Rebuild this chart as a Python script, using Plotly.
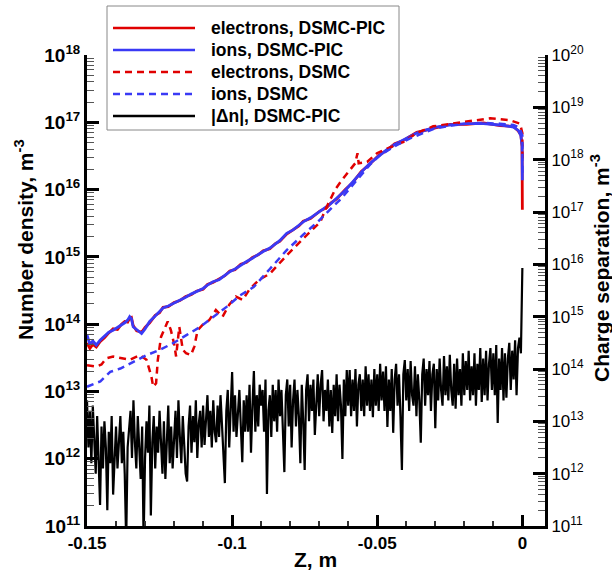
import plotly.graph_objects as go

# ---------------- data (log10 of number density, m^-3) ----------------
Z_IONS_PIC = [-0.150, -0.1490, -0.1480, -0.1468, -0.1455, -0.1439, -0.1425, -0.1410, -0.1395, -0.1381,
              -0.1370, -0.1360, -0.1353, -0.1347, -0.1341, -0.1329, -0.1312, -0.1300, -0.1284, -0.1265,
              -0.1250, -0.1238, -0.1220, -0.1200, -0.1180, -0.1160, -0.1140, -0.1123, -0.1100, -0.1085,
              -0.1066, -0.1045, -0.1025, -0.1008, -0.0990, -0.0970, -0.0950, -0.0930, -0.0910, -0.0893,
              -0.0870, -0.0850, -0.0836, -0.0812, -0.0790, -0.0770, -0.0755, -0.0730, -0.0698, -0.0674,
              -0.0660, -0.0640, -0.0610, -0.0583, -0.0555, -0.0525, -0.0495, -0.0468, -0.0440, -0.0410,
              -0.0364, -0.0307, -0.0249, -0.0192, -0.0134, -0.0077, -0.0031, -0.0014, -0.0005, -0.0001,
              0.0]
LOG_IONS_PIC = [13.84, 13.70, 13.75, 13.69, 13.76, 13.83, 13.88, 13.91, 13.95, 13.99,
                14.02, 14.06, 14.11, 14.08, 13.96, 13.92, 13.86, 13.93, 14.04, 14.12,
                14.18, 14.24, 14.27, 14.31, 14.36, 14.40, 14.45, 14.48, 14.53, 14.58,
                14.63, 14.66, 14.73, 14.78, 14.82, 14.88, 14.93, 14.98, 15.04, 15.08,
                15.13, 15.19, 15.24, 15.35, 15.40, 15.47, 15.52, 15.58, 15.67, 15.74,
                15.79, 15.87, 15.99, 16.12, 16.26, 16.39, 16.50, 16.59, 16.67, 16.74,
                16.84, 16.92, 16.96, 16.98, 16.98, 16.96, 16.93, 16.88, 16.80, 16.65,
                16.14]

Z_ELEC_PIC = Z_IONS_PIC + [0.0]
LOG_ELEC_PIC = [13.72, 13.64, 13.70, 13.66, 13.74, 13.80, 13.87, 13.93, 13.92, 14.00,
                14.04, 14.03, 14.09, 14.10, 13.98, 13.90, 13.88, 13.95, 14.02, 14.13,
                14.17, 14.25, 14.26, 14.32, 14.35, 14.41, 14.44, 14.49, 14.52, 14.59,
                14.62, 14.67, 14.72, 14.79, 14.81, 14.89, 14.92, 14.99, 15.03, 15.09,
                15.12, 15.20, 15.23, 15.34, 15.41, 15.46, 15.53, 15.57, 15.68, 15.73,
                15.80, 15.86, 16.00, 16.11, 16.27, 16.38, 16.51, 16.58, 16.68, 16.73,
                16.85, 16.91, 16.97, 16.97, 16.99, 16.95, 16.94, 16.87, 16.81, 16.64,
                16.14, 15.70]

Z_ELEC_DSMC = [-0.150, -0.1468, -0.1450, -0.1434, -0.1410, -0.1376, -0.1353, -0.1318, -0.1295, -0.1278,
               -0.1272, -0.1262, -0.1256, -0.1245, -0.1222, -0.1211, -0.1199, -0.1193, -0.1182, -0.1170,
               -0.1159, -0.1142, -0.1130, -0.1119, -0.1102, -0.1079, -0.1056, -0.1033, -0.1010, -0.0987,
               -0.0964, -0.0941, -0.0907, -0.0870, -0.0838, -0.0812, -0.0753, -0.0696, -0.0679, -0.0662,
               -0.0645, -0.0622, -0.0599, -0.0576, -0.0568, -0.0564, -0.0535, -0.0501, -0.0466, -0.0409,
               -0.0364, -0.0307, -0.0192, -0.0111, -0.0042, -0.0008, 0.0, 0.0]
LOG_ELEC_DSMC = [13.39, 13.37, 13.40, 13.49, 13.52, 13.49, 13.47, 13.54, 13.47, 13.22,
                 13.07, 13.12, 13.47, 13.81, 14.04, 13.91, 13.69, 13.52, 13.96, 13.62,
                 13.57, 13.54, 13.67, 13.91, 13.99, 14.06, 14.21, 14.11, 14.29, 14.41,
                 14.36, 14.51, 14.66, 14.75, 14.90, 15.02, 15.28, 15.52, 15.70, 15.85,
                 16.00, 16.14, 16.27, 16.39, 16.54, 16.39, 16.41, 16.54, 16.61, 16.71,
                 16.84, 16.94, 17.01, 17.06, 17.03, 16.98, 16.84, 16.40]

Z_IONS_DSMC = [-0.150, -0.1454, -0.1420, -0.1385, -0.1340, -0.1294, -0.1248, -0.1202, -0.1156, -0.1110,
               -0.1064, -0.1018, -0.0972, -0.0926, -0.0870, -0.0812, -0.0755, -0.0698, -0.0652, -0.0623,
               -0.0594, -0.0560, -0.0525, -0.0491, -0.0433, -0.0387, -0.0307, -0.0249, -0.0192, -0.0134,
               -0.0077, -0.0031, -0.0010, 0.0, 0.0]
LOG_IONS_DSMC = [13.07, 13.15, 13.29, 13.34, 13.44, 13.54, 13.62, 13.72, 13.84, 13.96,
                 14.11, 14.26, 14.43, 14.55, 14.82, 15.10, 15.33, 15.55, 15.75, 15.87,
                 16.02, 16.19, 16.37, 16.51, 16.66, 16.76, 16.90, 16.95, 16.98, 16.99,
                 16.98, 16.96, 16.92, 16.80, 16.20]

# |delta n| (charge separation, right axis), z in mm, log10 values
Z_DN_MM = [
    -150.0, -149.5, -149.0, -148.5, -148.0, -147.5, -147.0, -146.5, -146.0, -145.5,
    -145.0, -144.5, -144.0, -143.5, -143.0, -142.5, -142.0, -141.5, -141.0, -140.5,
    -140.0, -139.5, -139.0, -138.5, -138.0, -137.5, -137.0, -136.5, -136.0, -135.5,
    -135.0, -134.5, -134.0, -133.5, -133.0, -132.5, -132.0, -131.5, -131.0, -130.5,
    -130.0, -129.5, -129.0, -128.5, -128.0, -127.5, -127.0, -126.5, -126.0, -125.5,
    -125.0, -124.5, -124.0, -123.5, -123.0, -122.5, -122.0, -121.5, -121.0, -120.5,
    -120.0, -119.5, -119.0, -118.5, -118.0, -117.5, -117.0, -116.5, -116.0, -115.5,
    -115.0, -114.5, -114.0, -113.5, -113.0, -112.5, -112.0, -111.5, -111.0, -110.5,
    -110.0, -109.5, -109.0, -108.5, -108.0, -107.5, -107.0, -106.5, -106.0, -105.5,
    -105.0, -104.5, -104.0, -103.5, -103.0, -102.5, -102.0, -101.5, -101.0, -100.5,
    -100.0, -99.5, -99.0, -98.5, -98.0, -97.5, -97.0, -96.5, -96.0, -95.5,
    -95.0, -94.5, -94.0, -93.5, -93.0, -92.5, -92.0, -91.5, -91.0, -90.5,
    -90.0, -89.5, -89.0, -88.5, -88.0, -87.5, -87.0, -86.5, -86.0, -85.5,
    -85.0, -84.5, -84.0, -83.5, -83.0, -82.5, -82.0, -81.5, -81.0, -80.5,
    -80.0, -79.5, -79.0, -78.5, -78.0, -77.5, -77.0, -76.5, -76.0, -75.5,
    -75.0, -74.5, -74.0, -73.5, -73.0, -72.5, -72.0, -71.5, -71.0, -70.5,
    -70.0, -69.5, -69.0, -68.5, -68.0, -67.5, -67.0, -66.5, -66.0, -65.5,
    -65.0, -64.5, -64.0, -63.5, -63.0, -62.5, -62.0, -61.5, -61.0, -60.5,
    -60.0, -59.5, -59.0, -58.5, -58.0, -57.5, -57.0, -56.5, -56.0, -55.5,
    -55.0, -54.5, -54.0, -53.5, -53.0, -52.5, -52.0, -51.5, -51.0, -50.5,
    -50.0, -49.5, -49.0, -48.5, -48.0, -47.5, -47.0, -46.5, -46.0, -45.5,
    -45.0, -44.5, -44.0, -43.5, -43.0, -42.5, -42.0, -41.5, -41.0, -40.5,
    -40.0, -39.5, -39.0, -38.5, -38.0, -37.5, -37.0, -36.5, -36.0, -35.5,
    -35.0, -34.5, -34.0, -33.5, -33.0, -32.5, -32.0, -31.5, -31.0, -30.5,
    -30.0, -29.5, -29.0, -28.5, -28.0, -27.5, -27.0, -26.5, -26.0, -25.5,
    -25.0, -24.5, -24.0, -23.5, -23.0, -22.5, -22.0, -21.5, -21.0, -20.5,
    -20.0, -19.5, -19.0, -18.5, -18.0, -17.5, -17.0, -16.5, -16.0, -15.5,
    -15.0, -14.5, -14.0, -13.5, -13.0, -12.5, -12.0, -11.5, -11.0, -10.5,
    -10.0, -9.5, -9.0, -8.5, -8.0, -7.5, -7.0, -6.5, -6.0, -5.5,
    -5.0, -4.5, -4.0, -3.5, -3.0, -2.5, -2.0, -1.5, -1.0, -0.5,
    0.0]
LOG_DN = [
    13.40, 12.50, 13.20, 12.20, 13.30, 12.60, 12.00, 13.10, 12.40, 11.40,
    12.90, 12.10, 13.00, 12.50, 11.30, 12.80, 12.20, 13.10, 11.60, 12.40,
    12.90, 12.10, 12.70, 13.10, 12.20, 12.80, 12.00, 10.70, 12.50, 12.90,
    13.20, 12.30, 13.40, 12.60, 12.10, 13.10, 12.50, 11.90, 12.90, 10.70,
    12.30, 13.00, 12.40, 13.30, 11.20, 12.60, 13.10, 12.10, 12.90, 12.40,
    13.20, 12.50, 12.00, 13.00, 11.90, 12.60, 13.30, 12.20, 12.90, 12.10,
    12.80, 13.20, 12.30, 13.40, 12.70, 12.20, 13.10, 12.50, 12.00, 11.85,
    12.90, 13.30, 12.40, 13.10, 12.60, 13.40, 12.30, 12.95, 13.20, 12.50,
    13.30, 12.55, 13.10, 13.50, 12.70, 13.20, 12.50, 13.40, 12.80, 12.60,
    13.30, 12.70, 13.50, 12.90, 12.50, 11.82, 13.20, 13.60, 12.50, 13.30,
    13.94, 12.80, 13.50, 12.70, 13.30, 13.60, 12.90, 12.22, 13.40, 12.80,
    13.50, 12.80, 13.70, 12.40, 13.30, 13.96, 12.80, 13.50, 12.90, 13.70,
    13.30, 13.60, 12.80, 13.80, 11.61, 13.20, 13.50, 12.70, 13.70, 13.00,
    13.60, 12.80, 13.80, 13.10, 13.60, 12.80, 12.03, 13.50, 13.80, 12.90,
    13.70, 12.50, 13.40, 13.80, 12.90, 13.60, 13.10, 12.20, 13.70, 13.00,
    12.07, 13.60, 13.90, 13.00, 13.70, 13.20, 13.80, 12.74, 13.50, 13.90,
    13.10, 13.70, 13.98, 13.00, 13.60, 13.20, 13.80, 12.90, 13.60, 12.78,
    13.70, 13.10, 13.90, 13.00, 13.70, 13.30, 12.28, 13.80, 13.10, 13.98,
    13.30, 13.98, 13.10, 13.80, 13.20, 14.00, 12.90, 13.70, 13.90, 13.20,
    13.80, 13.10, 14.05, 13.30, 13.90, 13.20, 13.80, 13.08, 14.00, 13.30,
    13.90, 13.20, 14.10, 13.40, 13.95, 13.20, 14.05, 12.89, 13.80, 13.20,
    14.00, 12.78, 13.80, 14.10, 13.30, 13.90, 13.10, 12.07, 13.90, 14.17,
    13.40, 14.00, 13.20, 14.15, 13.50, 13.30, 14.05, 13.10, 13.90, 13.40,
    12.59, 13.90, 14.20, 13.30, 14.00, 13.50, 14.15, 13.20, 13.90, 14.10,
    12.87, 14.00, 13.40, 14.20, 13.60, 13.30, 14.25, 13.50, 14.05, 13.40,
    14.27, 13.60, 13.30, 14.10, 13.24, 14.20, 13.50, 14.00, 13.30, 14.30,
    13.50, 14.15, 13.60, 14.35, 13.40, 14.05, 13.50, 14.30, 13.30, 14.10,
    13.60, 14.40, 13.37, 14.20, 13.50, 14.35, 13.40, 14.10, 14.40, 13.60,
    14.30, 13.50, 14.46, 12.97, 14.20, 13.60, 14.40, 13.40, 14.30, 13.45,
    14.20, 14.50, 13.60, 14.35, 13.80, 14.55, 13.50, 14.40, 14.60, 14.30,
    15.93]

X_TICKS = [-0.15, -0.1, -0.05, 0.0]
X_TICK_TEXT = ["-0.15", "-0.1", "-0.05", "0"]
Y_LEFT_EXP = [11, 12, 13, 14, 15, 16, 17, 18]
Y_RIGHT_EXP = [11, 12, 13, 14, 15, 16, 17, 18, 19, 20]

LEG_LABELS = ["electrons, DSMC-PIC", "ions, DSMC-PIC", "electrons, DSMC", "ions, DSMC", "|Δn|, DSMC-PIC"]
RED = "#e00000"
BLUE = "#3a3af5"
LEG_COLORS = [RED, BLUE, RED, BLUE, "black"]
DASH = "7px,5px"
LEG_DASH = ["solid", "solid", DASH, DASH, "solid"]

FONT = "Liberation Sans, Arial, Helvetica, sans-serif"

# ---------------- figure ----------------
W, H = 612, 576
L, R, T, B = 87, 545, 55, 526


def px_x(px):
    return (px - L) / (R - L)


def px_y(py):
    return (B - py) / (B - T)


def dec(v):
    return 10.0 ** v


fig = go.Figure()

fig.add_trace(go.Scatter(x=Z_ELEC_PIC, y=[dec(v) for v in LOG_ELEC_PIC], mode="lines",
                         line=dict(color=RED, width=2.8), name=LEG_LABELS[0]))
fig.add_trace(go.Scatter(x=Z_IONS_PIC, y=[dec(v) for v in LOG_IONS_PIC], mode="lines",
                         line=dict(color=BLUE, width=2.8), name=LEG_LABELS[1]))
fig.add_trace(go.Scatter(x=Z_ELEC_DSMC, y=[dec(v) for v in LOG_ELEC_DSMC], mode="lines",
                         line=dict(color=RED, width=2.5, dash=DASH), name=LEG_LABELS[2]))
fig.add_trace(go.Scatter(x=Z_IONS_DSMC, y=[dec(v) for v in LOG_IONS_DSMC], mode="lines",
                         line=dict(color=BLUE, width=2.5, dash=DASH), name=LEG_LABELS[3]))
fig.add_trace(go.Scatter(x=[z / 1000 for z in Z_DN_MM], y=[dec(v) for v in LOG_DN], mode="lines",
                         line=dict(color="black", width=2.2), name=LEG_LABELS[4], yaxis="y2"))

left_minor = [m * dec(k) for k in Y_LEFT_EXP[:-1] for m in range(2, 10)]
right_minor = [m * dec(k) for k in Y_RIGHT_EXP[:-1] for m in range(2, 10)]

fig.update_layout(
    width=W, height=H,
    margin=dict(l=L, r=W - R, t=T, b=H - B, pad=0),
    paper_bgcolor="white", plot_bgcolor="white",
    showlegend=False,
    font=dict(family=FONT, color="black"),
    xaxis=dict(
        range=[-0.15, 0.0078], showgrid=False, zeroline=False,
        showline=True, linecolor="black", linewidth=3,
        tickmode="array", tickvals=X_TICKS, ticktext=X_TICK_TEXT,
        ticks="inside", ticklen=11, tickwidth=3, tickcolor="black",
        tickfont=dict(size=17, weight="bold", family=FONT),
        minor=dict(tickmode="linear", tick0=-0.15, dtick=0.01, ticks="inside",
                   ticklen=5, tickwidth=1.5, tickcolor="#333", showgrid=False),
    ),
    yaxis=dict(
        type="log", range=[11, 18], showgrid=False, zeroline=False,
        showline=True, linecolor="black", linewidth=3,
        tickmode="array", tickvals=[dec(k) for k in Y_LEFT_EXP],
        ticktext=["10<sup>%d</sup>" % k for k in Y_LEFT_EXP],
        ticks="inside", ticklen=12, tickwidth=3, tickcolor="black",
        tickfont=dict(size=19, weight="bold", family=FONT),
        minor=dict(tickmode="array", tickvals=left_minor, ticks="inside",
                   ticklen=7, tickwidth=1, tickcolor="#555", showgrid=False),
    ),
    yaxis2=dict(
        type="log", range=[11, 20], overlaying="y", side="right", anchor="x",
        showgrid=False, zeroline=False,
        showline=True, linecolor="black", linewidth=3,
        tickmode="array", tickvals=[dec(k) for k in Y_RIGHT_EXP],
        ticktext=["10<sup>%d</sup>" % k for k in Y_RIGHT_EXP],
        ticks="inside", ticklen=12, tickwidth=3, tickcolor="black",
        tickfont=dict(size=17, family=FONT),
        minor=dict(tickmode="array", tickvals=right_minor, ticks="inside",
                   ticklen=7, tickwidth=1, tickcolor="#555", showgrid=False),
    ),
)

annotations = [
    dict(text="Number density, m<sup>-3</sup>", x=px_x(24), y=px_y(240), textangle=-90,
         font=dict(size=21, weight="bold", family=FONT)),
    dict(text="Charge separation, m<sup>-3</sup>", x=px_x(600), y=px_y(268), textangle=-90,
         font=dict(size=21, weight="bold", family=FONT)),
    dict(text="Z, m", x=px_x(315), y=px_y(559),
         font=dict(size=21, weight="bold", family=FONT)),
]
for a in annotations:
    a.update(xref="paper", yref="paper", showarrow=False, xanchor="center", yanchor="middle")

shapes = [dict(type="rect", xref="paper", yref="paper",
               x0=px_x(107), x1=px_x(399), y0=px_y(130), y1=px_y(6),
               line=dict(color="#888", width=1), fillcolor="white", layer="above")]
LEG_Y = [28, 50, 72, 94, 116]
for lab, col, dsh, yy in zip(LEG_LABELS, LEG_COLORS, LEG_DASH, LEG_Y):
    shapes.append(dict(type="line", xref="paper", yref="paper",
                       x0=px_x(113), x1=px_x(195), y0=px_y(yy), y1=px_y(yy),
                       line=dict(color=col, width=2.5, dash=dsh), layer="above"))
    annotations.append(dict(text=lab, xref="paper", yref="paper", x=px_x(209), y=px_y(yy),
                            xanchor="left", yanchor="middle", showarrow=False,
                            font=dict(size=17.5, weight="bold", family=FONT)))

fig.update_layout(annotations=annotations, shapes=shapes)

fig.write_html("out.html")
